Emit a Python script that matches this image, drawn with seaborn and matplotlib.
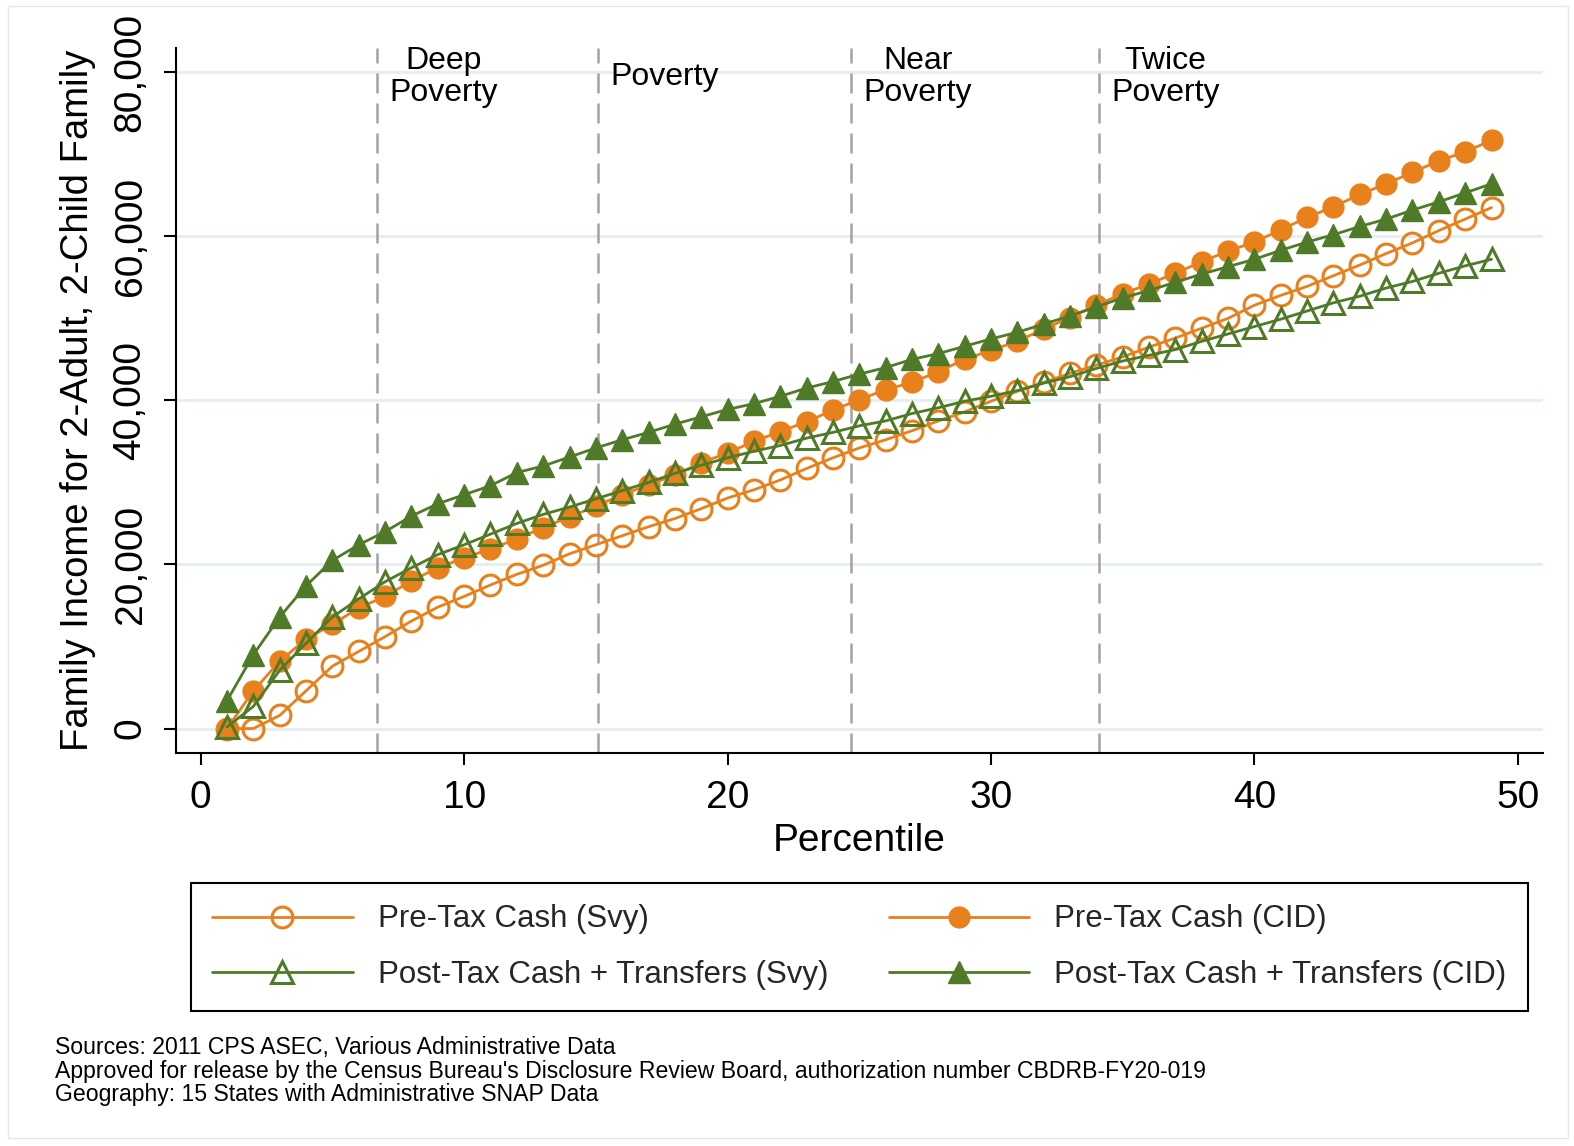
import matplotlib
matplotlib.use("Agg")
import matplotlib.pyplot as plt
import matplotlib.transforms as mtransforms
from matplotlib.patches import Rectangle
import seaborn as sns

# ---------------- data ----------------
percentile = list(range(1, 50))

pretax_svy = [0, 0, 1600, 4600, 7600, 9400, 11200, 13100, 14800, 16100,
              17500, 18800, 19900, 21300, 22400, 23500, 24600, 25600, 26800, 28100,
              29100, 30300, 31700, 33000, 34200, 35200, 36300, 37500, 38600, 39900,
              41100, 42200, 43300, 44300, 45300, 46500, 47600, 48800, 50000, 51600,
              52800, 53900, 55200, 56500, 57900, 59200, 60700, 62100, 63500]

pretax_cid = [0, 4600, 8200, 10900, 12700, 14700, 16100, 18000, 19600, 20800,
              21900, 23100, 24500, 25800, 27100, 28500, 29700, 30900, 32400, 33600,
              35000, 36200, 37400, 38800, 40100, 41300, 42200, 43500, 45000, 46100,
              47200, 48700, 50100, 51600, 53000, 54200, 55500, 56900, 58200, 59300,
              60800, 62300, 63600, 65100, 66400, 67800, 69200, 70300, 71700]

posttax_svy = [200, 2700, 7100, 10400, 13600, 15800, 17900, 19600, 21200, 22400,
               23700, 25000, 26100, 27000, 28000, 29000, 30000, 31100, 32100, 33000,
               33800, 34500, 35400, 36100, 36900, 37500, 38400, 39100, 39900, 40500,
               41200, 42100, 42900, 43900, 44800, 45500, 46200, 47200, 48100, 49000,
               49900, 50900, 51900, 52700, 53700, 54500, 55500, 56400, 57200]

posttax_cid = [3400, 9000, 13600, 17400, 20500, 22400, 24000, 25900, 27400, 28500,
               29600, 31200, 32000, 33100, 34200, 35200, 36100, 37100, 38000, 38900,
               39600, 40500, 41500, 42300, 43200, 44000, 45000, 45700, 46600, 47500,
               48300, 49300, 50300, 51400, 52500, 53400, 54400, 55400, 56300, 57200,
               58300, 59300, 60200, 61200, 62100, 63200, 64200, 65300, 66400]

series_names = ["Pre-Tax Cash (Svy)", "Pre-Tax Cash (CID)",
                "Post-Tax Cash + Transfers (Svy)", "Post-Tax Cash + Transfers (CID)"]

threshold_x = [6.7, 15.1, 24.7, 34.1]
threshold_labels = ["Deep\nPoverty", "Poverty", "Near\nPoverty", "Twice\nPoverty"]

xticks = [0, 10, 20, 30, 40, 50]
xtick_labels = ["0", "10", "20", "30", "40", "50"]
yticks = [0, 20000, 40000, 60000, 80000]
ytick_labels = ["0", "20,000", "40,000", "60,000", "80,000"]

x_label = "Percentile"
y_label = "Family Income for 2-Adult, 2-Child Family"

footnotes = ["Sources: 2011 CPS ASEC, Various Administrative Data",
             "Approved for release by the Census Bureau's Disclosure Review Board, authorization number CBDRB-FY20-019",
             "Geography: 15 States with Administrative SNAP Data"]

# ---------------- style ----------------
sns.set_theme(style="white")
plt.rcParams["font.family"] = ["Liberation Sans", "DejaVu Sans"]

ORANGE = "#e8801b"
GREEN = "#4f7a28"

# layout coordinates measured in a 1568x1142 frame
W, H = 1568, 1142
fig = plt.figure(figsize=(15.74, 11.46), dpi=100)
ax = fig.add_axes([175 / W, (H - 750) / H, (1537 - 175) / W, (750 - 48) / H])

specs = [
    (pretax_svy, ORANGE, "o", False),
    (pretax_cid, ORANGE, "o", True),
    (posttax_svy, GREEN, "^", False),
    (posttax_cid, GREEN, "^", True),
]

handles = []
for (vals, col, mk, filled), name in zip(specs, series_names):
    n_before = len(ax.lines)
    sns.lineplot(x=percentile, y=vals, ax=ax, color=col, linewidth=2.0,
                 marker=mk, markersize=15 if mk == "o" else 15.5,
                 markerfacecolor=col if filled else "none",
                 markeredgecolor=col, markeredgewidth=1.0 if filled else 2.2,
                 legend=False, zorder=3)
    line = ax.lines[n_before]
    line.set_label(name)
    handles.append(line)

# threshold lines
trans = mtransforms.blended_transform_factory(ax.transData, ax.transAxes)
for xv, lab in zip(threshold_x, threshold_labels):
    ax.axvline(xv, color="#a3a3a3", lw=1.8, dashes=(8, 4), zorder=2)
    ax.text(xv + 0.47, 0.959, lab, transform=trans, ha="left", va="center",
            multialignment="center", fontsize=23, linespacing=1.08, color="black")

ax.set_xlim(-0.95, 50.95)
ax.set_ylim(-2936, 82936)
ax.set_xticks(xticks)
ax.set_xticklabels(xtick_labels)
ax.set_yticks(yticks)
ax.set_yticklabels(ytick_labels, rotation=90, va="center")

ax.grid(axis="y", color="#e4eef0", lw=2)
ax.grid(axis="x", visible=False)
ax.set_axisbelow(True)

for s in ["top", "right"]:
    ax.spines[s].set_visible(False)
for s in ["left", "bottom"]:
    ax.spines[s].set_color("black")
    ax.spines[s].set_linewidth(1.5)

ax.tick_params(axis="both", direction="out", length=8.5, width=1.5, color="black",
               labelsize=28, pad=11, bottom=True, left=True, labelcolor="black")

ax.set_xlabel(x_label, fontsize=28, va="center", color="black")
ax.xaxis.set_label_coords(0.5, (750 - 838) / 702)
ax.set_ylabel(y_label, fontsize=27.5, va="center", color="black")
ax.yaxis.set_label_coords((78 - 175) / 1362, 0.5)

# legend (column-major: Svy in col 1, CID in col 2)
order = [0, 2, 1, 3]
leg = fig.legend([handles[i] for i in order], [series_names[i] for i in order],
                 ncol=2, mode="expand", loc="center",
                 bbox_to_anchor=(190 / W, (H - 1007) / H, 1332 / W, 126 / H),
                 bbox_transform=fig.transFigure, fontsize=22.5, frameon=True,
                 fancybox=False, framealpha=1, edgecolor="black",
                 handlelength=4.5, handletextpad=0.8, labelspacing=0.82,
                 borderpad=0.68, borderaxespad=0)
leg.get_frame().set_linewidth(1.5)

# footnotes
for txt, yc in zip(footnotes, [1044, 1068, 1091]):
    fig.text(55 / W, 1 - yc / H, txt, ha="left", va="center", fontsize=16.6, color="black")

# faint outer border
fig.patches.append(Rectangle((8 / W, 8 / H), (1562 - 8) / W, (1136 - 8) / H,
                             transform=fig.transFigure, fill=False,
                             edgecolor="#e6e6e6", lw=1))

fig.savefig("out.png", dpi=100)
